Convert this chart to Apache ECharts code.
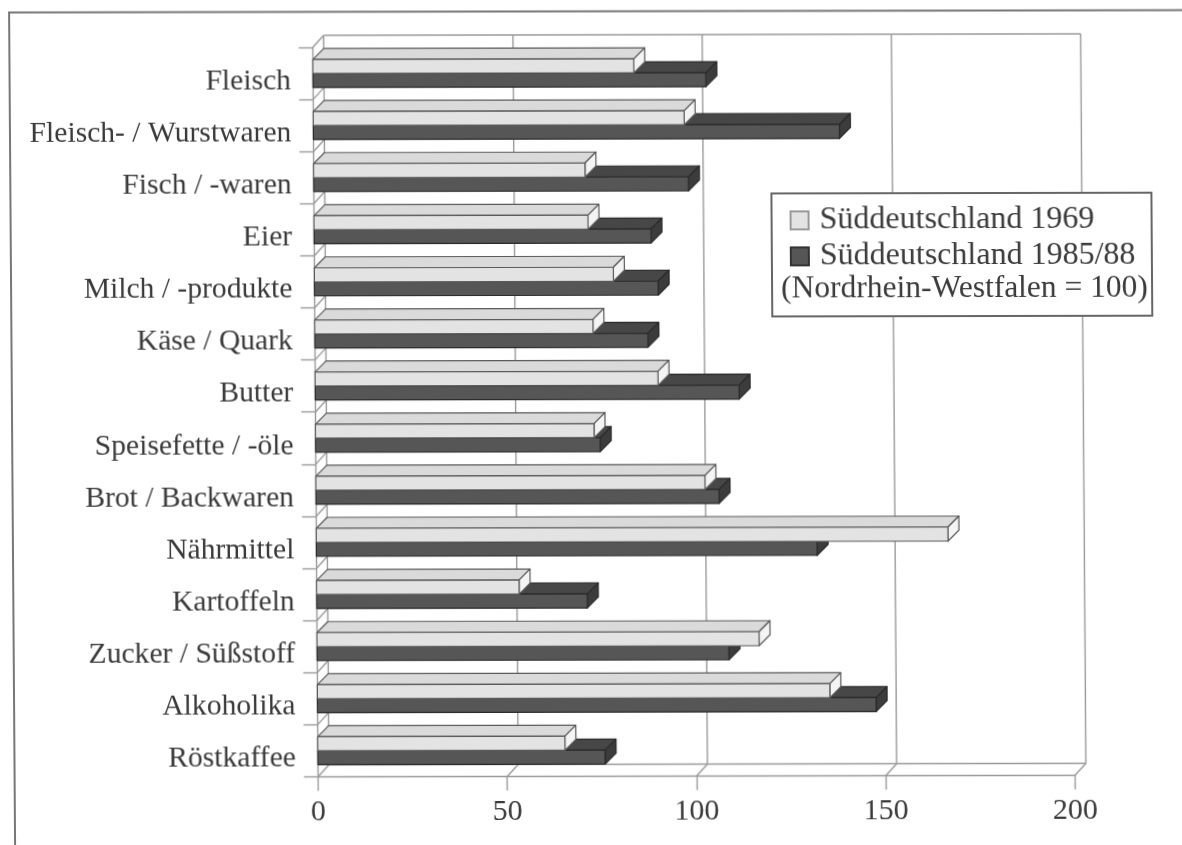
<!DOCTYPE html>
<html><head><meta charset="utf-8">
<style>
html,body{margin:0;padding:0;background:#fff;overflow:hidden}
#c{width:1182px;height:845px;transform-origin:0 0;transform:matrix(1,-0.002,0.0072,1,0,0);filter:blur(0.7px)}
</style>
<script src="https://cdn.jsdelivr.net/npm/echarts@6/dist/echarts.min.js"></script>
</head><body><div id="c"></div>
<script>
const categories=['Fleisch','Fleisch- / Wurstwaren','Fisch / -waren','Eier','Milch / -produkte','Käse / Quark','Butter','Speisefette / -öle','Brot / Backwaren','Nährmittel','Kartoffeln','Zucker / Süßstoff','Alkoholika','Röstkaffee'];
const values1969=[84.8,98,71.7,72.4,79,73.5,90.6,73.6,102.8,166.9,53.5,116.8,135.4,65.3];
const values1985=[103.8,139,99,89,90.8,88,112,75.2,106.5,132.3,71.5,108.8,147.6,75.9];
const xTicks=[0,50,100,150,200];
const name1969='Süddeutschland 1969', name1985='Süddeutschland 1985/88', noteText='(Nordrhein-Westfalen = 100)';
const FONT='"Liberation Serif"', TXT='#3a3a3a', LINE='#9a9a9a';
const BAR_D=[11,-11], WALL_D=[11,-12], BAR_H=14;

function pts(a){return {points:a};}
function barRenderer(pal,offset){
  return function(params,api){
    const p=api.coord([api.value(0),api.value(1)]);
    const o=api.coord([0,api.value(1)]);
    const y0=p[1]+offset, y1=y0+BAR_H, x0=o[0], x1=p[0];
    const dx=BAR_D[0], dy=BAR_D[1];
    const st=(f)=>({fill:f,stroke:pal.stroke,lineWidth:1.2,lineJoin:'round'});
    return {type:'group',children:[
      {type:'polygon',shape:pts([[x0,y0],[x1,y0],[x1+dx,y0+dy],[x0+dx,y0+dy]]),style:st(pal.top)},
      {type:'polygon',shape:pts([[x1,y0],[x1+dx,y0+dy],[x1+dx,y1+dy],[x1,y1]]),style:st(pal.side)},
      {type:'rect',shape:{x:x0,y:y0,width:x1-x0,height:BAR_H},style:st(pal.front)}
    ]};
  };
}
function line(a,b,w,c){return {type:'line',shape:{x1:a[0],y1:a[1],x2:b[0],y2:b[1]},style:{stroke:c||LINE,lineWidth:w||1.4}};}
function wallX(params,api){
  const cs=params.coordSys, v=api.value(0), i=params.dataIndex;
  const x=api.coord([v,0])[0], top=cs.y, bot=cs.y+cs.height;
  const dx=WALL_D[0], dy=WALL_D[1];
  const ch=[line([x+dx,top+dy],[x+dx,bot+dy]),line([x,bot],[x+dx,bot+dy])];
  if(i<xTicks.length-1){
    const nx=api.coord([xTicks[i+1],0])[0];
    ch.push(line([x+dx,top+dy],[nx+dx,top+dy]),line([x+dx,bot+dy],[nx+dx,bot+dy]));
  }
  return {type:'group',children:ch};
}
function wallY(params,api){
  const cs=params.coordSys, band=cs.height/categories.length, y=cs.y+band*params.dataIndex, x=cs.x;
  return line([x,y],[x+WALL_D[0],y+WALL_D[1]]);
}
const palLight={front:'#e3e3e3',top:'#dadada',side:'#f4f4f4',stroke:'#5a5a5a'};
const palDark={front:'#565656',top:'#474747',side:'#3c3c3c',stroke:'#2a2a2a'};
const chart=echarts.init(document.getElementById('c'),null,{renderer:'canvas'});
chart.setOption({
  animation:false,backgroundColor:'#fff',
  grid:{left:312.4,top:48,width:757,height:729.5,containLabel:false},
  xAxis:{type:'value',min:0,max:200,interval:50,splitLine:{show:false},
    axisLine:{show:true,onZero:false,lineStyle:{color:LINE,width:1.4}},
    axisTick:{show:true,length:14,lineStyle:{color:LINE,width:1.4}},
    axisLabel:{margin:21,color:TXT,fontFamily:FONT,fontSize:30,formatter:(v)=>xTicks.includes(v)?String(v):''}},
  yAxis:{type:'category',inverse:true,data:categories,
    axisLine:{show:true,lineStyle:{color:LINE,width:1.4}},
    axisTick:{show:true,length:14,lineStyle:{color:LINE,width:1.4}},
    axisLabel:{margin:22,color:TXT,fontFamily:FONT,fontSize:29.6,verticalAlign:'top',lineHeight:16,align:'right',interval:0}},
  legend:{show:true,data:[name1969,name1985],orient:'vertical',left:783,top:201,itemWidth:18,itemHeight:18,itemGap:4,icon:'rect',z:6,
    textStyle:{fontFamily:FONT,fontSize:32,color:TXT,padding:[0,0,0,6]}},
  graphic:[
    {type:'polyline',z:10,shape:{points:[[9,860],[9,12.5],[1182,12.5]]},style:{fill:'none',stroke:'#777',lineWidth:2}},
    {type:'rect',z:3,shape:{x:770,y:195,width:380,height:123},style:{fill:'#fff',stroke:'#666',lineWidth:2}},
    {type:'text',z:6,left:779,top:275,style:{text:noteText,font:'31.5px "Liberation Serif"',fill:TXT}}
  ],
  series:[
    {type:'custom',name:'wallX',silent:true,z:1,clip:false,coordinateSystem:'cartesian2d',encode:{x:0,y:1},data:xTicks.map(v=>[v,0]),renderItem:wallX},
    {type:'custom',name:'wallY',silent:true,z:1,clip:false,coordinateSystem:'cartesian2d',encode:{x:0,y:1},data:categories.map((c,i)=>[0,i]),renderItem:wallY},
    {type:'custom',name:name1985,z:2,clip:false,coordinateSystem:'cartesian2d',encode:{x:0,y:1},itemStyle:{color:palDark.front,borderColor:'#333',borderWidth:1},data:values1985.map((v,i)=>[v,i]),renderItem:barRenderer(palDark,0)},
    {type:'custom',name:name1969,z:2.5,clip:false,coordinateSystem:'cartesian2d',encode:{x:0,y:1},itemStyle:{color:palLight.front,borderColor:'#999',borderWidth:1},data:values1969.map((v,i)=>[v,i]),renderItem:barRenderer(palLight,-BAR_H)}
  ]
});
</script></body></html>
